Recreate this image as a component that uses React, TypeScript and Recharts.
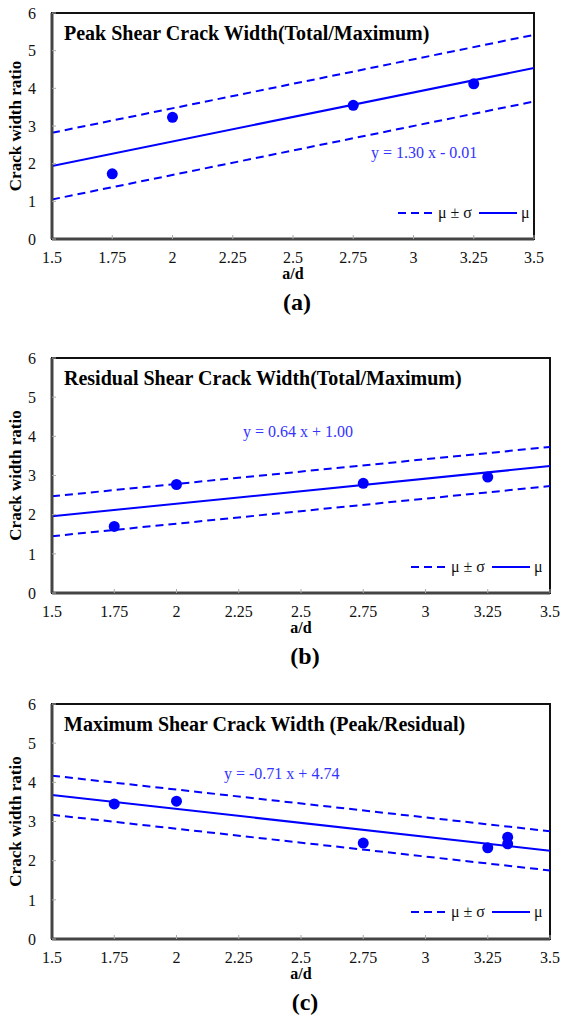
import React from "react";
import { ComposedChart, Line, Scatter, XAxis, YAxis, ReferenceArea, Legend } from "recharts";

const xTicks = [1.5, 1.75, 2, 2.25, 2.5, 2.75, 3, 3.25, 3.5];
const yTicks = [0, 1, 2, 3, 4, 5, 6];
const lineX = [1.5, 3.5];

// (a) peak, total / maximum
const peakX = [1.75, 2, 2.75, 3.25];
const peakY = [1.73, 3.23, 3.55, 4.12];
const peakMean = [1.94, 4.54];
const peakUpper = [2.82, 5.42];
const peakLower = [1.05, 3.65];

// (b) residual, total / maximum
const resX = [1.75, 2, 2.75, 3.25];
const resY = [1.7, 2.77, 2.8, 2.96];
const resMean = [1.96, 3.24];
const resUpper = [2.47, 3.73];
const resLower = [1.45, 2.73];

// (c) maximum, peak / residual
const maxX = [1.75, 2, 2.75, 3.25, 3.33, 3.33];
const maxY = [3.45, 3.52, 2.45, 2.33, 2.6, 2.43];
const maxMean = [3.675, 2.255];
const maxUpper = [4.17, 2.75];
const maxLower = [3.17, 1.75];

const FONT = "'Liberation Serif', 'Times New Roman', serif";
const BLUE = "#0000ff";

const toPoints = (xs: number[], ys: number[]) => xs.map((x, i) => ({ x, y: ys[i] }));

const LegendBox = () => (
  <svg width={135} height={20} style={{ display: "block" }}>
    <line x1={0} x2={37} y1={10} y2={10} stroke={BLUE} strokeWidth={2} strokeDasharray="8 5" />
    <text x={40} y={15} fontFamily={FONT} fontSize={16} fill="#111">μ ± σ</text>
    <line x1={81} x2={119} y1={10} y2={10} stroke={BLUE} strokeWidth={2} />
    <text x={123} y={15} fontFamily={FONT} fontSize={16} fill="#111">μ</text>
  </svg>
);

const Dot = (props: any) => <circle cx={props.cx} cy={props.cy} r={5.5} fill={BLUE} />;

interface PanelProps {
  top: number;
  plotH: number;
  right: number;
  xs: number[];
  ys: number[];
  mean: number[];
  upper: number[];
  lower: number[];
  title: string;
  equation: string;
  eqX: number;
  eqY: number;
  legendLeft: number;
  legendTop: number;
  letter: string;
}

function Panel(p: PanelProps) {
  const width = 561;
  const mt = 13;
  const height = mt + p.plotH + 30;
  const plotBottom = mt + p.plotH;
  const plotCx = (52 + (width - p.right)) / 2;
  return (
    <div style={{ position: "absolute", left: 0, top: p.top, width, height: 330 }}>
      <ComposedChart width={width} height={height} margin={{ top: mt, right: p.right, left: 0, bottom: 0 }}>
        <XAxis
          dataKey="x"
          type="number"
          domain={[1.5, 3.5]}
          ticks={xTicks}
          interval={0}
          height={30}
          tickSize={-4}
          tickMargin={17}
          tickLine={{ stroke: "#aaa" }}
          axisLine={{ stroke: "#444", strokeWidth: 3 }}
          tick={{ fill: "#111", fontSize: 16, fontFamily: FONT }}
          allowDataOverflow
        />
        <YAxis
          dataKey="y"
          type="number"
          domain={[0, 6]}
          ticks={yTicks}
          interval={0}
          width={52}
          tickSize={-4}
          tickMargin={20}
          tickLine={{ stroke: "#aaa" }}
          axisLine={{ stroke: "#444", strokeWidth: 3 }}
          tick={{ fill: "#111", fontSize: 16, fontFamily: FONT }}
          allowDataOverflow
        />
        <ReferenceArea x1={1.5} x2={3.5} y1={0} y2={6} fill="none" stroke="#111" strokeWidth={2} />
        <Line data={toPoints(lineX, p.upper)} dataKey="y" stroke={BLUE} strokeWidth={2} strokeDasharray="8 5" dot={false} isAnimationActive={false} />
        <Line data={toPoints(lineX, p.lower)} dataKey="y" stroke={BLUE} strokeWidth={2} strokeDasharray="8 5" dot={false} isAnimationActive={false} />
        <Line data={toPoints(lineX, p.mean)} dataKey="y" stroke={BLUE} strokeWidth={2} dot={false} isAnimationActive={false} />
        <Scatter data={toPoints(p.xs, p.ys)} dataKey="y" shape={<Dot />} isAnimationActive={false} />
        <Legend
          layout="horizontal"
          verticalAlign="middle"
          align="center"
          content={() => <LegendBox />}
          wrapperStyle={{ position: "absolute", left: p.legendLeft, top: p.legendTop, width: 135 }}
        />
      </ComposedChart>
      <svg width={width} height={330} style={{ position: "absolute", left: 0, top: 0, pointerEvents: "none" }}>
        <text x={64} y={mt + 27} fontFamily={FONT} fontSize={20} fontWeight="bold" fill="#000">{p.title}</text>
        <text x={p.eqX} y={p.eqY} fontFamily={FONT} fontSize={16} fill="#3333ff">{p.equation}</text>
        <text
          x={15}
          y={mt + p.plotH / 2}
          transform={`rotate(-90 15 ${mt + p.plotH / 2})`}
          textAnchor="middle"
          dominantBaseline="central"
          fontFamily={FONT}
          fontSize={17}
          fontWeight="bold"
          fill="#000"
        >
          Crack width ratio
        </text>
        <text x={plotCx} y={plotBottom + 34} textAnchor="middle" dominantBaseline="central" fontFamily={FONT} fontSize={16} fontWeight="bold" fill="#000">
          a/d
        </text>
        <text x={plotCx + 4} y={plotBottom + 63} textAnchor="middle" dominantBaseline="central" fontFamily={FONT} fontSize={24} fontWeight="bold" fill="#000">
          {p.letter}
        </text>
      </svg>
    </div>
  );
}

export default function App() {
  return (
    <div style={{ position: "absolute", left: 0, top: 0, width: 561, height: 1016, background: "#fff" }}>
      <Panel
        top={0}
        plotH={226}
        right={27}
        xs={peakX}
        ys={peakY}
        mean={peakMean}
        upper={peakUpper}
        lower={peakLower}
        title="Peak Shear Crack Width(Total/Maximum)"
        equation="y = 1.30 x - 0.01"
        eqX={371}
        eqY={158}
        legendLeft={398}
        legendTop={203}
        letter="(a)"
      />
      <Panel
        top={345}
        plotH={235}
        right={11}
        xs={resX}
        ys={resY}
        mean={resMean}
        upper={resUpper}
        lower={resLower}
        title="Residual Shear Crack Width(Total/Maximum)"
        equation="y = 0.64 x + 1.00"
        eqX={243}
        eqY={92}
        legendLeft={411}
        legendTop={212}
        letter="(b)"
      />
      <Panel
        top={691}
        plotH={235}
        right={11}
        xs={maxX}
        ys={maxY}
        mean={maxMean}
        upper={maxUpper}
        lower={maxLower}
        title="Maximum  Shear Crack Width (Peak/Residual)"
        equation="y = -0.71 x + 4.74"
        eqX={224}
        eqY={88}
        legendLeft={411}
        legendTop={211}
        letter="(c)"
      />
    </div>
  );
}
